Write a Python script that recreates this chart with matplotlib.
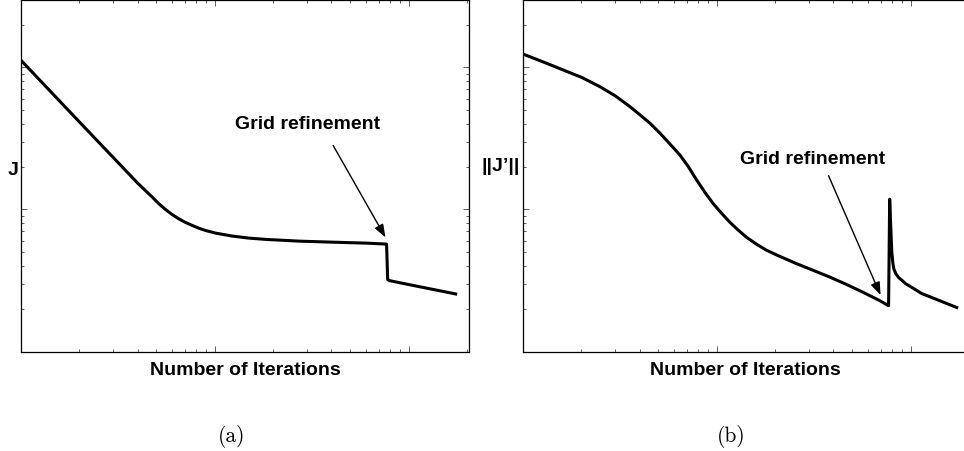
# System Modules
import matplotlib
matplotlib.use("Agg")
import matplotlib.pyplot as plt

##===============================================================================
# Data (iteration number, value)

# (a) cost function J
iter_a = [1, 2, 3, 4, 4.73, 5.13, 5.56, 6.01, 6.51, 7.05, 7.63, 8.26, 8.95, 10.1,
          12.3, 15, 18.3, 27.2, 40.5, 60.4, 77, 78, 80, 100, 150, 175]
J_a    = [11.2, 4.13, 2.31, 1.53, 1.23, 1.10, 1.0, 0.922, 0.860, 0.810, 0.772,
          0.738, 0.711, 0.681, 0.649, 0.628, 0.615, 0.598, 0.588, 0.579, 0.570,
          0.321, 0.315, 0.296, 0.265, 0.254]

# (b) gradient norm ||J'||
iter_b = [1, 1.34, 2.02, 2.51, 3.0, 3.51, 4.03, 4.53, 5.10, 5.74, 6.46, 7.13, 7.87,
          8.68, 9.57, 10.6, 11.7, 12.9, 14.2, 16.0, 18.0, 21.0, 25.6, 31.2, 37.9,
          46.3, 56.2, 68.5, 77, 78, 79, 80, 81, 82, 84, 87, 90, 94, 100, 114, 140, 173]
G_b    = [12.4, 10.6, 8.46, 7.27, 6.28, 5.37, 4.61, 4.03, 3.43, 2.88, 2.41, 2.0, 1.61,
          1.32, 1.10, 0.937, 0.810, 0.715, 0.638, 0.570, 0.517, 0.469, 0.417, 0.374,
          0.336, 0.298, 0.263, 0.230, 0.210, 1.18, 0.75, 0.50, 0.42, 0.38, 0.352,
          0.33, 0.318, 0.301, 0.286, 0.256, 0.229, 0.204]

# annotation (text baseline, arrow tail, arrow head) in data coords
note_a = dict(text=(30, 3.72), tail=(40.8, 2.82), head=(76.0, 0.635))
note_b = dict(text=(31.2, 2.11), tail=(37.7, 1.73), head=(70.0, 0.249))

x_lim = (1, 205)
y_lim = (0.1, 30)

##===============================================================================
# Figure

plt.rcParams['font.family'] = ['Liberation Sans', 'DejaVu Sans']

W, H = 964, 452
fig = plt.figure(figsize=(W / 100, H / 100), dpi=100)

def px_box(left, top, width, height):
    return [left / W, (H - top - height) / H, width / W, height / H]

ax_a = fig.add_axes(px_box(21, 0.5, 448, 352))
ax_b = fig.add_axes(px_box(523, 0.5, 448, 352))

for ax, x, y, note in ((ax_a, iter_a, J_a, note_a), (ax_b, iter_b, G_b, note_b)):
    ax.plot(x, y, color='black', lw=2.2, solid_joinstyle='round')
    ax.set_xscale('log')
    ax.set_yscale('log')
    ax.set_xlim(*x_lim)
    ax.set_ylim(*y_lim)

    ax.tick_params(which='both', direction='in', top=True, right=True,
                   labelbottom=False, labelleft=False, width=0.6, color='#444444')
    ax.tick_params(which='major', length=4)
    ax.tick_params(which='minor', length=2)
    for s in ax.spines.values():
        s.set_linewidth(0.9)

    ax.text(*note['text'], 'Grid refinement', fontsize=14, fontweight='bold',
            ha='center', va='baseline')
    ax.annotate('', xy=note['head'], xytext=note['tail'],
                arrowprops=dict(arrowstyle='-|>,head_length=0.6,head_width=0.22',
                                lw=1.0, color='black', mutation_scale=13,
                                shrinkA=0, shrinkB=0))

# axis labels placed in pixel positions
def fig_text(xp, yp, s, **kw):
    fig.text(xp / W, 1 - yp / H, s, **kw)

fig_text(245, 375, 'Number of Iterations', fontsize=14, fontweight='bold', ha='center', va='baseline')
fig_text(745, 375, 'Number of Iterations', fontsize=14, fontweight='bold', ha='center', va='baseline')
fig_text(13, 175, 'J', fontsize=14, fontweight='bold', ha='center', va='baseline')
fig_text(501, 171, '||J\u2019||', fontsize=14, fontweight='bold', ha='center', va='baseline')

fig_text(232, 437, '(a)', fontsize=15.5, family='cmr10', ha='center', va='center')
fig_text(731, 437, '(b)', fontsize=15.5, family='cmr10', ha='center', va='center')

plt.savefig('out.png', dpi=100)
